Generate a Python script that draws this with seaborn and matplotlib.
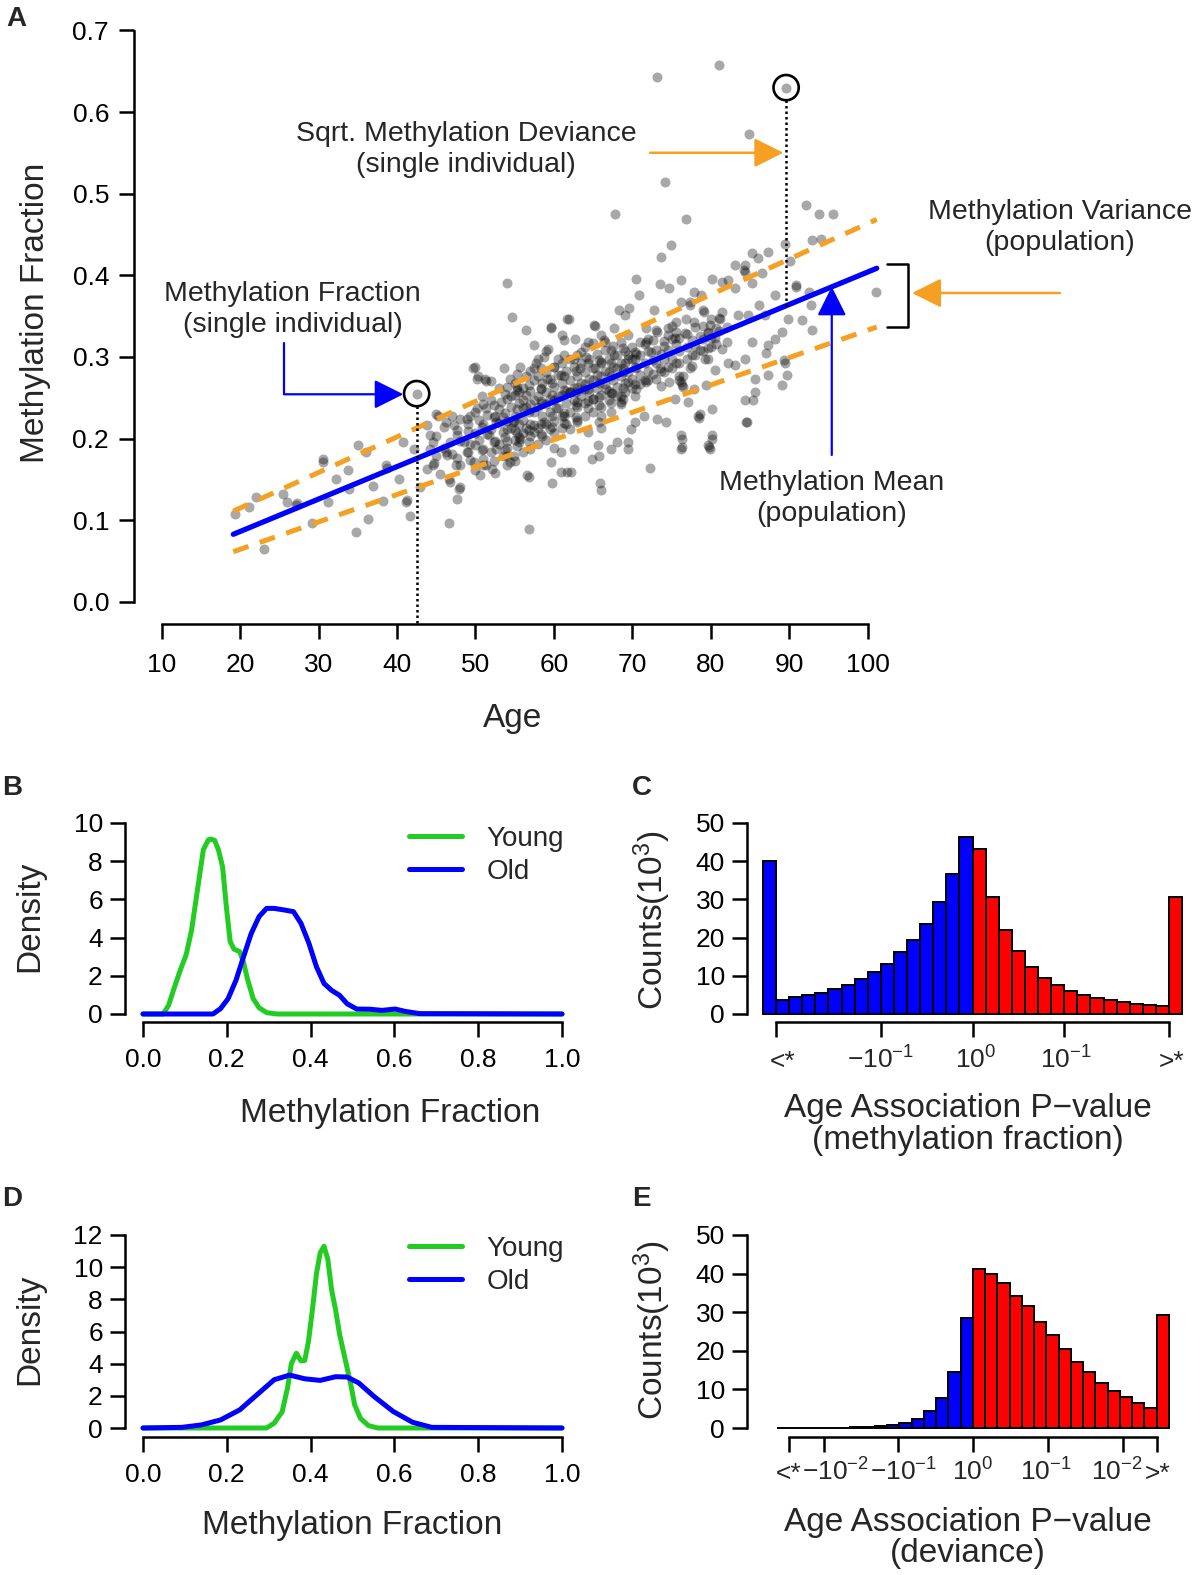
import numpy as np
import pandas as pd
import matplotlib
matplotlib.use('Agg')
import matplotlib.pyplot as plt
import matplotlib.transforms as mtransforms
import seaborn as sns

sns.set_style('white')
plt.rcParams['font.family'] = ['Liberation Sans', 'DejaVu Sans']
plt.rcParams['mathtext.fontset'] = 'custom'
plt.rcParams['mathtext.rm'] = 'Liberation Sans'
plt.rcParams['mathtext.it'] = 'Liberation Sans:italic'
plt.rcParams['mathtext.bf'] = 'Liberation Sans:bold'

W, H = 1200, 1575
ORANGE = '#F5A023'
GREEN = '#22CC22'

# ---------------- panel A: methylation fraction vs age ----------------
ages_left = [19.4, 21.1, 22.0, 23.0, 25.4, 26.0, 27.1, 27.2, 29.2, 30.5, 30.6, 31.2,
             32.2, 33.7, 33.9, 34.8, 35.0, 36.1, 36.3, 36.9, 38.2, 38.6, 38.7, 40.3,
             40.8, 41.2, 41.3, 41.6, 42.1, 42.5, 42.9]
meth_left = [0.107, 0.116, 0.128, 0.064, 0.132, 0.122, 0.118, 0.121, 0.097, 0.175, 0.171, 0.122,
             0.150, 0.161, 0.138, 0.085, 0.192, 0.183, 0.101, 0.142, 0.124, 0.167, 0.164, 0.150,
             0.196, 0.122, 0.125, 0.105, 0.187, 0.255, 0.140]

ages_mid = [43.8, 44.2, 45.0, 45.2, 44.2, 44.6, 43.8, 44.6, 44.7, 45.5, 46.3, 47.2, 46.8,
            46.3, 46.4, 47.6, 46.6, 46.7, 47.9, 48.0, 47.7, 46.6, 48.9, 49.7, 50.2, 50.3,
            50.6, 50.9, 50.2, 51.3, 52.1, 52.6, 48.9, 49.8, 48.5, 47.5, 53.2, 54.4, 54.8,
            54.9, 55.3, 55.6, 55.7, 56.0, 56.8, 56.8, 57.5, 57.5, 54.0, 54.0, 52.6, 51.7,
            54.9, 54.0, 54.0, 54.7, 56.4, 57.4, 59.6, 61.9, 50.0, 51.2, 51.3, 53.6, 55.7,
            57.7, 58.7, 61.3, 63.4, 65.1, 51.4, 54.4, 56.6, 60.9, 62.2]
meth_mid = [0.216, 0.204, 0.230, 0.228, 0.187, 0.196, 0.163, 0.167, 0.170, 0.157, 0.220, 0.216, 0.196,
            0.183, 0.180, 0.204, 0.150, 0.147, 0.138, 0.141, 0.126, 0.097, 0.224, 0.286, 0.273, 0.276,
            0.155, 0.175, 0.237, 0.237, 0.163, 0.187, 0.183, 0.171, 0.196, 0.167, 0.245, 0.273, 0.220,
            0.222, 0.263, 0.196, 0.199, 0.237, 0.153, 0.089, 0.216, 0.286, 0.212, 0.179, 0.220, 0.204,
            0.179, 0.167, 0.390, 0.349, 0.333, 0.314, 0.337, 0.347, 0.288, 0.273, 0.270, 0.286, 0.288,
            0.292, 0.300, 0.321, 0.306, 0.339, 0.167, 0.171, 0.155, 0.159, 0.159]

ages_late = [59.6, 61.7, 65.3, 66.4, 66.5, 68.3, 69.6, 70.5, 70.9, 72.8, 73.5, 74.7, 76.2,
             77.3, 77.4, 77.9, 78.8, 80.1, 79.0, 79.1, 81.4, 82.2, 83.1, 84.2, 84.3, 85.3,
             86.5, 87.3, 88.2, 89.5, 90.1, 90.8, 90.9, 91.6, 92.9, 92.8, 89.9, 89.1, 89.3,
             89.4, 89.7, 89.1, 87.3, 87.3, 87.0, 85.6, 85.6, 84.4, 85.4, 84.5, 83.1, 84.4,
             82.2, 81.4, 80.5, 79.7, 77.9, 76.7, 75.4, 74.5, 74.0, 72.4, 71.8, 70.3, 69.4,
             68.8, 67.7, 66.0, 65.2, 64.1, 63.3, 62.5, 60.9, 60.0, 59.1, 58.3,
             66.0, 67.3, 68.5, 68.6, 69.8, 71.5, 73.2, 74.3, 75.4, 76.2, 76.3, 77.1, 78.4,
             78.5, 76.2, 76.2, 76.3, 79.7, 79.8, 79.9, 80.1, 72.2, 77.9, 79.4, 80.5, 79.2,
             77.3, 76.0, 74.7, 73.5, 71.8, 70.5, 69.4, 68.5, 67.4, 66.6, 65.0, 63.8, 62.9,
             62.1, 61.3, 60.3, 58.7, 63.0, 64.3, 65.8, 68.1, 69.4, 62.6, 60.9, 59.6, 61.7,
             64.9, 65.7,
             69.0, 67.7, 66.0, 64.4, 62.7, 61.0, 59.3, 71.8, 73.1, 75.6, 76.9, 79.9, 81.2,
             76.2, 81.4, 83.5, 84.8, 86.1, 86.9, 88.2, 85.2, 83.1, 84.4, 85.3, 92.5,
             65.6, 67.3, 69.4, 70.3, 80.1, 76.3, 78.6, 80.1, 84.6, 66.0, 65.9, 59.7]
meth_late = [0.335, 0.347, 0.338, 0.321, 0.318, 0.358, 0.360, 0.396, 0.376, 0.357, 0.389, 0.385, 0.394,
             0.367, 0.364, 0.380, 0.376, 0.396, 0.357, 0.355, 0.392, 0.394, 0.384, 0.407, 0.404, 0.427,
             0.403, 0.429, 0.376, 0.438, 0.417, 0.388, 0.386, 0.345, 0.333, 0.363, 0.347, 0.331, 0.296,
             0.293, 0.278, 0.265, 0.278, 0.314, 0.305, 0.273, 0.257, 0.247, 0.247, 0.220, 0.290, 0.298,
             0.292, 0.310, 0.323, 0.329, 0.343, 0.329, 0.323, 0.335, 0.320, 0.306, 0.318, 0.298, 0.302,
             0.286, 0.302, 0.294, 0.286, 0.300, 0.286, 0.298, 0.278, 0.288, 0.273, 0.261,
             0.228, 0.232, 0.245, 0.242, 0.212, 0.228, 0.224, 0.220, 0.249, 0.269, 0.266, 0.245, 0.228,
             0.225, 0.204, 0.187, 0.190, 0.192, 0.189, 0.187, 0.204, 0.164, 0.261, 0.265, 0.284, 0.297,
             0.286, 0.277, 0.269, 0.286, 0.269, 0.261, 0.269, 0.252, 0.256, 0.261, 0.249, 0.261, 0.245,
             0.257, 0.228, 0.237, 0.220, 0.220, 0.208, 0.220, 0.196, 0.187, 0.187, 0.183, 0.171, 0.159,
             0.175, 0.179,
             0.351, 0.335, 0.327, 0.318, 0.322, 0.327, 0.310, 0.335, 0.330, 0.343, 0.347, 0.339, 0.347,
             0.367, 0.355, 0.351, 0.351, 0.363, 0.351, 0.322, 0.318, 0.413, 0.413, 0.390, 0.380,
             0.192, 0.187, 0.196, 0.220, 0.200, 0.200, 0.230, 0.236, 0.220, 0.137, 0.146, 0.146]

ages_out = [73.1, 81.0, 89.6, 84.9, 74.2, 67.8, 76.8, 74.9, 73.6, 92.1, 93.8, 95.6, 92.9,
            94.1, 86.0, 101.1]
meth_out = [0.643, 0.658, 0.630, 0.573, 0.514, 0.475, 0.469, 0.437, 0.423, 0.486, 0.475, 0.475, 0.443,
            0.445, 0.421, 0.379]

# dense core of the cloud, one column of values per age
core_ages = [45, 46, 47, 48, 49, 50, 50.5, 51, 51.5, 52, 52.5, 53, 53.5, 54, 54.5, 55, 55.5,
             56, 56.5, 57, 57.5, 58, 58.5, 59, 59.5, 60, 60.5, 61, 61.5, 62, 62.5, 63, 63.5,
             64, 64.5, 65, 65.5, 66, 66.5, 67, 67.5, 68, 68.5, 69, 69.5, 70, 70.5, 71, 72,
             73, 74, 75, 76, 76.5, 77, 78, 79, 80, 81, 82]
core_vals = [
    [0.203, 0.178], [0.188, 0.214], [0.181, 0.227], [0.197, 0.168, 0.224],
    [0.183, 0.209, 0.218], [0.192, 0.207, 0.233, 0.162], [0.198, 0.223],
    [0.187, 0.218, 0.242, 0.168], [0.206, 0.229], [0.183, 0.212, 0.247, 0.271],
    [0.197, 0.228, 0.158], [0.193, 0.219, 0.236, 0.262], [0.208, 0.226, 0.178],
    [0.197, 0.222, 0.248, 0.263, 0.188], [0.213, 0.238, 0.252],
    [0.198, 0.211, 0.227, 0.253, 0.268, 0.172], [0.218, 0.243, 0.202, 0.257],
    [0.207, 0.223, 0.247, 0.262, 0.183], [0.213, 0.238, 0.253, 0.277],
    [0.203, 0.218, 0.242, 0.258, 0.283, 0.187], [0.232, 0.247, 0.208, 0.272],
    [0.213, 0.238, 0.252, 0.277, 0.193, 0.297], [0.228, 0.243, 0.268, 0.203],
    [0.218, 0.242, 0.257, 0.282, 0.198, 0.307], [0.233, 0.248, 0.273, 0.212],
    [0.222, 0.247, 0.263, 0.288, 0.207, 0.188], [0.237, 0.252, 0.278, 0.297],
    [0.228, 0.253, 0.268, 0.213, 0.292], [0.243, 0.258, 0.283, 0.218],
    [0.233, 0.257, 0.272, 0.298, 0.212], [0.247, 0.262, 0.288],
    [0.238, 0.263, 0.277, 0.302, 0.223], [0.252, 0.268, 0.293],
    [0.243, 0.267, 0.282, 0.228, 0.312], [0.257, 0.273, 0.298],
    [0.248, 0.272, 0.287, 0.233, 0.317], [0.262, 0.278, 0.303],
    [0.253, 0.277, 0.292, 0.238, 0.213], [0.267, 0.283, 0.308],
    [0.258, 0.282, 0.297, 0.247], [0.272, 0.288, 0.313],
    [0.263, 0.287, 0.302, 0.252], [0.277, 0.293, 0.318],
    [0.268, 0.292, 0.307, 0.257], [0.282, 0.298, 0.327],
    [0.273, 0.297, 0.312, 0.262], [0.287, 0.303],
    [0.278, 0.302, 0.318, 0.267], [0.283, 0.307, 0.322, 0.272],
    [0.292, 0.308, 0.333, 0.273], [0.297, 0.313, 0.282],
    [0.298, 0.322, 0.287, 0.338], [0.307, 0.323, 0.292, 0.272],
    [0.263, 0.277], [0.312, 0.328, 0.297], [0.313, 0.337, 0.302],
    [0.322, 0.338, 0.307], [0.323, 0.347, 0.312], [0.332, 0.348], [0.337, 0.318],
]
core2_ages = [47.7, 49.3, 50.8, 52.3, 53.8, 55.3, 56.8, 58.3, 59.8, 61.3, 62.8, 64.3, 65.8,
              67.3, 68.8, 70.3, 71.6, 72.6, 73.6, 74.6, 75.6, 77.6, 78.6, 79.6, 80.6]
core2_vals = [
    [0.176, 0.211], [0.193, 0.228, 0.174], [0.186, 0.214, 0.252],
    [0.196, 0.226, 0.241, 0.173], [0.202, 0.231, 0.254, 0.186],
    [0.207, 0.236, 0.259, 0.191, 0.279], [0.211, 0.232, 0.266, 0.196],
    [0.218, 0.246, 0.262, 0.286, 0.206], [0.227, 0.253, 0.268, 0.214],
    [0.231, 0.259, 0.276, 0.302, 0.219], [0.241, 0.257, 0.283, 0.226],
    [0.246, 0.261, 0.292, 0.237], [0.251, 0.268, 0.296, 0.241],
    [0.256, 0.276, 0.293, 0.308, 0.243], [0.262, 0.281, 0.311, 0.249],
    [0.267, 0.288, 0.306, 0.252], [0.272, 0.293, 0.316], [0.279, 0.296, 0.321],
    [0.283, 0.303, 0.264], [0.288, 0.309, 0.327], [0.293, 0.316, 0.331],
    [0.302, 0.321, 0.289], [0.308, 0.326], [0.311, 0.331, 0.298], [0.316, 0.336],
]
assert len(core_ages) == len(core_vals) and len(core2_ages) == len(core2_vals)

# fitted mean and variance band
fit_age = [19.13, 101.15]
fit_mean = [0.0826, 0.4086]
band_hi = [0.111, 0.4685]
band_lo = [0.0613, 0.3366]

# highlighted individuals
hl_age = [42.5, 89.6]
hl_meth = [0.255, 0.630]

# ---------------- panels B and D: density curves ----------------
b_young_x = [0.0, 0.048, 0.061, 0.075, 0.089, 0.103, 0.116, 0.13, 0.144, 0.156, 0.162, 0.171,
             0.18, 0.19, 0.199, 0.208, 0.217, 0.231, 0.24, 0.249, 0.263, 0.277, 0.295, 0.32, 1.0]
b_young_y = [0, 0, 0.45, 1.4, 2.3, 3.1, 4.4, 6.5, 8.6, 9.12, 9.16, 9.09,
             8.6, 7.7, 5.6, 3.8, 3.4, 3.26, 2.7, 1.86, 0.8, 0.33, 0.07, 0, 0]
b_old_x = [0.0, 0.167, 0.185, 0.203, 0.222, 0.24, 0.258, 0.277, 0.295, 0.313, 0.336, 0.359,
           0.377, 0.396, 0.414, 0.432, 0.45, 0.469, 0.487, 0.51, 0.542, 0.57, 0.602, 0.625,
           0.66, 1.0]
b_old_y = [0, 0, 0.28, 0.8, 1.77, 3.0, 4.2, 5.1, 5.53, 5.53, 5.45, 5.36,
           4.75, 3.7, 2.47, 1.6, 1.24, 0.98, 0.54, 0.26, 0.25, 0.19, 0.26, 0.14,
           0.02, 0]

d_young_x = [0.0, 0.295, 0.313, 0.332, 0.345, 0.354, 0.366, 0.377, 0.386, 0.395, 0.405, 0.414,
             0.423, 0.432, 0.441, 0.45, 0.46, 0.469, 0.478, 0.487, 0.496, 0.505, 0.519, 0.538,
             0.56, 1.0]
d_young_y = [0, 0, 0.3, 1.0, 2.5, 4.0, 4.65, 4.17, 4.2, 5.4, 7.5, 9.6,
             10.9, 11.3, 10.5, 8.6, 7.3, 5.85, 4.8, 3.75, 2.7, 1.45, 0.6, 0.15,
             0, 0]
d_old_x = [0.0, 0.093, 0.139, 0.185, 0.231, 0.277, 0.313, 0.35, 0.386, 0.423, 0.46, 0.487,
           0.515, 0.551, 0.597, 0.643, 0.689, 1.0]
d_old_y = [0, 0.04, 0.19, 0.5, 1.13, 2.18, 3.0, 3.29, 3.06, 2.96, 3.19, 3.17,
           2.8, 1.97, 1.03, 0.36, 0.04, 0]

# ---------------- panels C and E: p-value histograms (counts x 10^3) ----------------
c_counts = [40.0, 3.75, 4.4, 4.9, 5.6, 6.5, 7.6, 9.2, 10.9, 13.1, 16.1, 19.4, 23.6, 29.4, 36.6, 46.3,
            43.3, 30.5, 22.1, 16.4, 12.2, 9.4, 7.5, 6.0, 4.9, 4.1, 3.6, 3.1, 2.7, 2.4, 2.2, 30.5]
c_ticks = [1, 9, 16, 23, 31]
c_label_pos = [1.5, 9, 16.2, 23.1, 31.2]
c_labels = ['<*', r'$-10^{-1}$', r'$10^{0}$', r'$10^{-1}$', '>*']

e_counts = [0.05, 0.05, 0.05, 0.08, 0.1, 0.12, 0.18, 0.28, 0.45, 0.9, 1.4, 2.4, 4.3, 7.9, 14.5, 28.4,
            41.3, 39.8, 37.5, 34.1, 31.5, 27.4, 24.0, 20.5, 17.2, 14.4, 11.6, 9.6, 8.0, 6.6, 5.3, 29.4]
e_ticks = [1, 3.83, 9.91, 16, 22.14, 28.25, 31]
e_label_pos = [1.0, 4.83, 10.38, 16.0, 21.95, 27.74, 31.1]
e_labels = ['<*', r'$-10^{-2}$', r'$-10^{-1}$', r'$10^{0}$', r'$10^{-1}$', r'$10^{-2}$', '>*']


def lin(p, p0, v0, p1, v1):
    return v0 + (p - p0) * (v1 - v0) / (p1 - p0)


def add_panel(fig, box, xref, yref):
    """box = (left, top, right, bottom) in pixels; refs map pixels to data."""
    left, top, right, bottom = box
    ax = fig.add_axes([left / W, 1 - bottom / H, (right - left) / W, (bottom - top) / H])
    ax.set_xlim(lin(left, *xref), lin(right, *xref))
    ax.set_ylim(lin(bottom, *yref), lin(top, *yref))
    ax.patch.set_alpha(0)
    return ax


def style_axes(ax, xb, yb, labelsize=19):
    sns.despine(ax=ax)
    ax.spines['left'].set_bounds(*yb)
    ax.spines['bottom'].set_bounds(*xb)
    for s in ('left', 'bottom'):
        ax.spines[s].set_linewidth(1.8)
        ax.spines[s].set_color('black')
    ax.tick_params(direction='out', length=11, width=1.8, labelsize=labelsize,
                   colors='black', left=True, bottom=True)
    ax.set_xlabel('')
    ax.set_ylabel('')
    ax.grid(False)


def fig_text(fig, px, py, s, **kw):
    fig.text(px / W, 1 - py / H, s, **kw)


fig = plt.figure(figsize=(12, 15.75), dpi=100)

# ---- A ----
axA = add_panel(fig, (134, 20, 890, 624), (161.7, 10, 867.7, 100), (601.7, 0.0, 30.5, 0.7))
all_age = ages_left + ages_mid + ages_late + ages_out
all_meth = meth_left + meth_mid + meth_late + meth_out
for a, vals in list(zip(core_ages, core_vals)) + list(zip(core2_ages, core2_vals)):
    all_age += [a] * len(vals)
    all_meth += vals
sns.scatterplot(x=all_age, y=all_meth, color='black', alpha=0.34, s=52, linewidth=0, ax=axA)
sns.lineplot(x=fit_age, y=band_hi, color=ORANGE, lw=3.6, ax=axA)
axA.lines[-1].set_linestyle((0, (3.2, 2.4)))
sns.lineplot(x=fit_age, y=band_lo, color=ORANGE, lw=3.6, ax=axA)
axA.lines[-1].set_linestyle((0, (3.2, 2.4)))
sns.lineplot(x=fit_age, y=fit_mean, color='blue', lw=3.8, ax=axA)
axA.lines[-1].set_solid_capstyle('round')
axA.scatter(hl_age, hl_meth, s=330, facecolors='none', edgecolors='black', linewidths=1.9, zorder=6)

r_circ = 0.0154
axA.plot([hl_age[0], hl_age[0]], [hl_meth[0] - r_circ, -0.0273], color='black', lw=1.8,
         ls=(0, (1, 1.2)), clip_on=False, zorder=5)
y_fit_90 = np.interp(hl_age[1], fit_age, fit_mean)
axA.plot([hl_age[1], hl_age[1]], [hl_meth[1] - r_circ, y_fit_90], color='black', lw=1.8,
         ls=(0, (1, 1.2)), zorder=5)

head = dict(arrowstyle='-|>,head_length=0.9,head_width=0.45', mutation_scale=20,
            shrinkA=0, shrinkB=0)
# methylation fraction arrow (L shaped)
axA.plot([25.59, 25.59], [0.3174, 0.2542], color='blue', lw=1.6)
axA.annotate('', xy=(40.8, 0.2542), xytext=(25.59, 0.2542),
             arrowprops=dict(color='blue', lw=1.6, **head))
# deviance arrow
axA.annotate('', xy=(89.25, 0.5502), xytext=(72.27, 0.5502),
             arrowprops=dict(color=ORANGE, lw=1.8, **head))
# mean arrow
axA.annotate('', xy=(95.42, 0.386), xytext=(95.42, 0.1798),
             arrowprops=dict(color='blue', lw=1.6, **head))
# variance arrow + bracket
axA.annotate('', xy=(105.65, 0.3783), xytext=(124.52, 0.3783), annotation_clip=False,
             arrowprops=dict(color=ORANGE, lw=1.8, **head))
axA.plot([102.43, 105.18, 105.18, 102.43], [0.4138, 0.4138, 0.3363, 0.3363], color='black',
         lw=1.8, clip_on=False)

ann = dict(ha='center', va='center', fontsize=20.5, linespacing=1.25)
axA.text(48.79, 0.5536, 'Sqrt. Methylation Deviance\n(single individual)', **ann)
axA.text(124.52, 0.458, 'Methylation Variance\n(population)', **ann)
axA.text(26.68, 0.3587, 'Methylation Fraction\n(single individual)', **ann)
axA.text(95.42, 0.1267, 'Methylation Mean\n(population)', **ann)

style_axes(axA, (10, 100), (0, 0.7))
axA.set_xticks(range(10, 101, 10))
axA.set_yticks(np.arange(0, 0.71, 0.1))
axA.set_yticklabels([f'{v:.1f}' for v in np.arange(0, 0.71, 0.1)])
axA.tick_params(axis='x', pad=10)
axA.tick_params(axis='y', pad=7)
fig_text(fig, 36, 313, 'Methylation Fraction', rotation=90, ha='center', va='center', fontsize=24)
fig_text(fig, 513, 727, 'Age', ha='center', va='baseline', fontsize=24)


# ---- B / D density panels ----
def density_panel(box, yref, young, old, ymax, legend_top, xlabel_x, xlabel_base, ylabel_y):
    ax = add_panel(fig, box, (143, 0.0, 562, 1.0), yref)
    sns.lineplot(x=young[0], y=young[1], color=GREEN, lw=3.6, ax=ax, label='Young')
    sns.lineplot(x=old[0], y=old[1], color='blue', lw=3.6, ax=ax, label='Old')
    style_axes(ax, (0, 1), (0, ymax))
    ax.set_xticks(np.arange(0, 1.01, 0.2))
    ax.set_xticklabels([f'{v:.1f}' for v in np.arange(0, 1.01, 0.2)])
    ax.set_yticks(range(0, ymax + 1, 2))
    ax.tick_params(axis='x', pad=8)
    ax.tick_params(axis='y', pad=5)
    ax.legend(loc='upper left', bbox_to_anchor=(409 / W, 1 - legend_top / H),
              bbox_transform=fig.transFigure, frameon=False, fontsize=20,
              handlelength=1.9, handletextpad=0.9, labelspacing=0.25,
              borderpad=0, borderaxespad=0)
    fig_text(fig, xlabel_x, xlabel_base, 'Methylation Fraction', ha='center', va='baseline',
             fontsize=24)
    fig_text(fig, 30, ylabel_y, 'Density', rotation=90, ha='center', va='center', fontsize=24)
    return ax


density_panel((125, 800, 575, 1022), (1014, 0.0, 823, 10.0), (b_young_x, b_young_y),
              (b_old_x, b_old_y), 10, 826, 390, 1122, 916)
density_panel((125, 1210, 575, 1437), (1428, 0.0, 1235, 12.0), (d_young_x, d_young_y),
              (d_old_x, d_old_y), 12, 1236, 352, 1534, 1329)


# ---- C / E histogram panels ----
def hist_panel(box, xref, yref, counts, ticks, label_pos, labels, label_base, lines, ylabel_y):
    ax = add_panel(fig, box, xref, yref)
    n = len(counts)
    half = n // 2
    bins = pd.DataFrame({'pos': np.arange(n) + 0.5, 'count': counts})
    sns.histplot(data=bins.iloc[:half], x='pos', weights='count', binwidth=1,
                 binrange=(0, half), color='blue', edgecolor='black', linewidth=1.4,
                 alpha=1, ax=ax)
    sns.histplot(data=bins.iloc[half:], x='pos', weights='count', binwidth=1,
                 binrange=(half, n), color='red', edgecolor='black', linewidth=1.4,
                 alpha=1, ax=ax)
    style_axes(ax, (ticks[0], ticks[-1]), (0, 50))
    ax.set_xticks(ticks)
    ax.set_xticklabels([])
    ax.set_yticks(range(0, 51, 10))
    ax.tick_params(axis='y', pad=5)
    trans = mtransforms.blended_transform_factory(ax.transData, fig.transFigure)
    for pos, lab in zip(label_pos, labels):
        ax.text(pos, 1 - label_base / H, lab, transform=trans, ha='center', va='baseline',
                fontsize=19)
    for text, base in lines:
        fig_text(fig, 968, base, text, ha='center', va='baseline', fontsize=24)
    fig_text(fig, 652, ylabel_y, 'Counts(10$^3$)', rotation=90, ha='center', va='center',
             fontsize=24)
    return ax


hist_panel((747, 800, 1195, 1022), (776, 1, 1169, 31), (1014, 0, 823, 50), c_counts,
           c_ticks, c_label_pos, c_labels, 1069,
           [('Age Association P\u2212value', 1117), ('(methylation fraction)', 1149)], 920)
hist_panel((747, 1210, 1195, 1437), (789, 1, 1156.7, 31), (1428, 0, 1235, 50), e_counts,
           e_ticks, e_label_pos, e_labels, 1481,
           [('Age Association P\u2212value', 1531), ('(deviance)', 1562)], 1330)

# panel letters
for letter, px, py in [('A', 6, 6), ('B', 2, 775), ('C', 632, 775), ('D', 2, 1186), ('E', 632, 1186)]:
    fig_text(fig, px, py, letter, ha='left', va='top', fontsize=20, fontweight='bold')

fig.savefig('out.png', dpi=100)
